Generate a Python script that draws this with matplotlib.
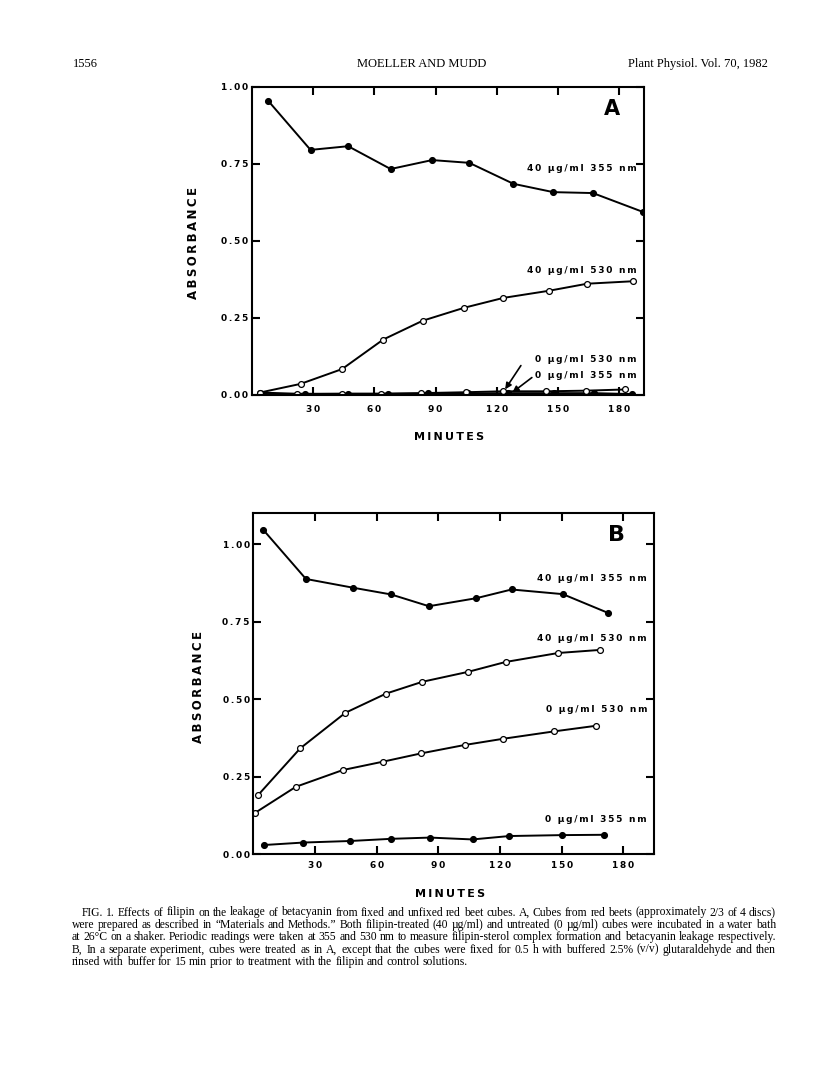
import numpy as np
import matplotlib.pyplot as plt
from matplotlib.ticker import FuncFormatter

plt.rcParams["font.family"] = ["DejaVu Sans"]
plt.rcParams["font.weight"] = "bold"

W, H = 816, 1073

# ---- panel A (unfixed cubes) ----
a_t40_355 = [8.1, 28.8, 47.2, 68.0, 88.3, 106.5, 128.1, 147.6, 167.0, 191.4]
a_y40_355 = [0.954, 0.795, 0.807, 0.733, 0.762, 0.753, 0.685, 0.658, 0.655, 0.594]
a_t40_530 = [4.1, 23.9, 44.2, 64.4, 83.7, 104.0, 123.2, 145.4, 164.2, 186.7]
a_y40_530 = [0.008, 0.036, 0.084, 0.180, 0.241, 0.283, 0.315, 0.338, 0.361, 0.369]
a_t0_530 = [4.0, 22.4, 44.4, 63.4, 82.9, 104.9, 122.8, 143.9, 163.4, 182.9]
a_y0_530 = [0.008, 0.004, 0.004, 0.004, 0.006, 0.009, 0.012, 0.012, 0.014, 0.018]
a_t0_355 = [5.7, 26.0, 47.2, 66.7, 86.2, 105.7, 125.2, 148.0, 167.5, 186.2]
a_y0_355 = [0.003, 0.003, 0.004, 0.004, 0.005, 0.005, 0.006, 0.006, 0.006, 0.003]

# ---- panel B (glutaraldehyde fixed cubes) ----
b_t40_355 = [4.8, 25.6, 48.3, 67.0, 85.4, 108.5, 125.6, 150.5, 172.3]
b_y40_355 = [1.047, 0.888, 0.860, 0.838, 0.800, 0.826, 0.854, 0.839, 0.779]
b_t40_530 = [2.3, 22.8, 44.8, 64.6, 82.2, 104.4, 122.7, 148.3, 168.8]
b_y40_530 = [0.190, 0.341, 0.456, 0.518, 0.556, 0.588, 0.620, 0.649, 0.659]
b_t0_530 = [0.9, 20.7, 43.5, 63.0, 81.7, 102.8, 121.5, 146.4, 166.7]
b_y0_530 = [0.133, 0.217, 0.271, 0.298, 0.325, 0.352, 0.372, 0.396, 0.414]
b_t0_355 = [5.2, 24.4, 47.2, 67.0, 86.0, 106.6, 124.5, 150.3, 170.3]
b_y0_355 = [0.029, 0.037, 0.042, 0.049, 0.053, 0.047, 0.058, 0.061, 0.062]

x_ticks = [30, 60, 90, 120, 150, 180]
y_ticks = [0.0, 0.25, 0.50, 0.75, 1.00]

header = ["1556", "MOELLER AND MUDD", "Plant Physiol. Vol. 70, 1982"]
caption = [
    "FIG. 1. Effects of filipin on the leakage of betacyanin from fixed and unfixed red beet cubes. A, Cubes from red beets (approximately 2/3 of 4 discs)",
    "were prepared as described in \u201cMaterials and Methods.\u201d Both filipin-treated (40 \u00b5g/ml) and untreated (0 \u00b5g/ml) cubes were incubated in a water bath",
    "at 26\u00b0C on a shaker. Periodic readings were taken at 355 and 530 nm to measure filipin-sterol complex formation and betacyanin leakage respectively.",
    "B, In a separate experiment, cubes were treated as in A, except that the cubes were fixed for 0.5 h with buffered 2.5% (v/v) glutaraldehyde and then",
    "rinsed with buffer for 15 min prior to treatment with the filipin and control solutions.",
]


def spaced(s):
    # the original lettering is widely tracked
    return "\u2009".join(s)


def box(left, top, right, bottom):
    return [left / W, 1 - bottom / H, (right - left) / W, (bottom - top) / H]


def series(ax, t, y, filled):
    ax.plot(t, y, "-", color="black", lw=1.4, marker="o", ms=4.2,
            mfc="black" if filled else "white", mec="black", mew=0.9)


def style(ax, xmax, ymax, xpad):
    ax.set_xlim(0, xmax)
    ax.set_ylim(0, ymax)
    ax.set_xticks(x_ticks)
    ax.set_yticks(y_ticks)
    ax.xaxis.set_major_formatter(FuncFormatter(lambda v, p: spaced(f"{v:.0f}")))
    ax.yaxis.set_major_formatter(FuncFormatter(lambda v, p: spaced(f"{v:.2f}")))
    ax.tick_params(direction="in", length=6, width=1.5, top=True, right=True,
                   labelsize=6.5)
    ax.tick_params(axis="x", pad=xpad)
    ax.tick_params(axis="y", pad=2.5)
    for lab in ax.get_xticklabels() + ax.get_yticklabels():
        lab.set_fontweight("bold")
    for sp in ax.spines.values():
        sp.set_linewidth(1.5)


fig = plt.figure(figsize=(W / 100, H / 100), dpi=100)

# panel A
axA = fig.add_axes(box(251.7, 86.7, 644, 395))
series(axA, a_t0_355, a_y0_355, True)
series(axA, a_t0_530, a_y0_530, False)
series(axA, a_t40_530, a_y40_530, False)
series(axA, a_t40_355, a_y40_355, True)
style(axA, 192, 1.0, 7)
labA = [("40 \u00b5g/ml 355 nm", 0.736), ("40 \u00b5g/ml 530 nm", 0.405),
        ("0 \u00b5g/ml 530 nm", 0.114), ("0 \u00b5g/ml 355 nm", 0.062)]
for s, yy in labA:
    axA.text(188.5, yy, spaced(s), fontsize=6.5, fontweight="bold",
             ha="right", va="center")
arrow = dict(arrowstyle="-|>", color="black", lw=1.2, mutation_scale=9)
axA.annotate("", xy=(123.3, 0.011), xytext=(132.5, 0.103), arrowprops=arrow)
axA.annotate("", xy=(126.5, 0.003), xytext=(138.2, 0.062), arrowprops=arrow)
axA.text(0.918, 0.928, "A", transform=axA.transAxes, fontsize=15,
         fontweight="bold", ha="center", va="center")
axA.set_ylabel(spaced("ABSORBANCE"), fontsize=8.5, fontweight="bold")
axA.yaxis.set_label_coords(-0.132, 0.493)
axA.set_xlabel(spaced("MINUTES"), fontsize=8, fontweight="bold", va="center")
axA.xaxis.set_label_coords(0.503, -0.135)

# panel B
axB = fig.add_axes(box(253.3, 513.3, 654.3, 854))
series(axB, b_t40_355, b_y40_355, True)
series(axB, b_t40_530, b_y40_530, False)
series(axB, b_t0_530, b_y0_530, False)
series(axB, b_t0_355, b_y0_355, True)
style(axB, 195, 1.10, 5)
labB = [("40 \u00b5g/ml 355 nm", 0.891), ("40 \u00b5g/ml 530 nm", 0.697),
        ("0 \u00b5g/ml 530 nm", 0.465), ("0 \u00b5g/ml 355 nm", 0.110)]
for s, yy in labB:
    axB.text(191.5, yy, spaced(s), fontsize=6.5, fontweight="bold",
             ha="right", va="center")
axB.text(0.906, 0.935, "B", transform=axB.transAxes, fontsize=16,
         fontweight="bold", ha="center", va="center")
axB.set_ylabel(spaced("ABSORBANCE"), fontsize=8.5, fontweight="bold")
axB.yaxis.set_label_coords(-0.12, 0.491)
axB.set_xlabel(spaced("MINUTES"), fontsize=8, fontweight="bold", va="center")
axB.xaxis.set_label_coords(0.49, -0.117)

# page header
serif = dict(family="Liberation Serif", weight="normal")
fig.text(73 / W, 1 - 67 / H, header[0], fontsize=9, ha="left", va="baseline", **serif)
fig.text(422 / W, 1 - 67 / H, header[1], fontsize=9, ha="center", va="baseline", **serif)
fig.text(768 / W, 1 - 67 / H, header[2], fontsize=9, ha="right", va="baseline", **serif)

# caption, justified word by word
r = fig.canvas.get_renderer()
x_left, x_right, indent = 72, 776, 10
probe = fig.text(0, 0, caption[1], fontsize=10, **serif)
cap_size = 10 * (x_right - x_left - 6) / probe.get_window_extent(r).width
probe.remove()
for i, line in enumerate(caption):
    y = 1 - (915.5 + 12.4 * i) / H
    x0 = x_left + (indent if i == 0 else 0)
    words = line.split()
    texts = [fig.text(0, y, w, fontsize=cap_size, va="baseline", **serif)
             for w in words]
    widths = [t.get_window_extent(r).width for t in texts]
    if i < len(caption) - 1:
        gap = (x_right - x0 - sum(widths)) / (len(words) - 1)
    else:
        gap = 0.25 * cap_size * 100 / 72
    x = x0
    for t, w in zip(texts, widths):
        t.set_x(x / W)
        x += w + gap

fig.savefig("out.png", dpi=100)
